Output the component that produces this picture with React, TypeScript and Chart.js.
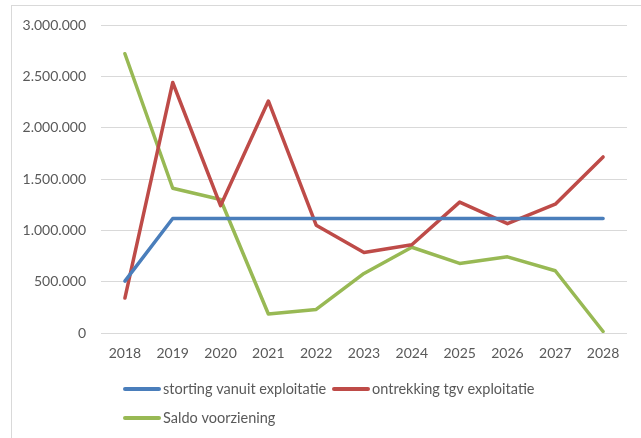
import React, { useEffect, useRef } from "react";
import { Chart, registerables } from "chart.js";

Chart.register(...registerables);

const years = ["2018", "2019", "2020", "2021", "2022", "2023", "2024", "2025", "2026", "2027", "2028"];
const storting = [505000, 1115000, 1115000, 1115000, 1115000, 1115000, 1115000, 1115000, 1115000, 1115000, 1115000];
const ontrekking = [340000, 2440000, 1240000, 2260000, 1050000, 785000, 860000, 1275000, 1065000, 1255000, 1715000];
const saldo = [2720000, 1410000, 1300000, 185000, 230000, 580000, 835000, 678000, 742000, 606000, 15000];

const seriesNames = ["storting vanuit exploitatie", "ontrekking tgv exploitatie", "Saldo voorziening"];
const seriesColors = ["#4A7EBB", "#BE4B48", "#98B954"];

const FONT = "Lato, 'Open Sans', sans-serif";
const TEXT = "#595959";

function fmt(v: number): string {
  return String(Math.round(v)).replace(/\B(?=(\d{3})+(?!\d))/g, ".");
}

const framePlugin = {
  id: "frame",
  beforeDraw(chart: any) {
    const ctx = chart.ctx;
    ctx.save();
    ctx.fillStyle = "#ffffff";
    ctx.fillRect(0, 0, chart.width, chart.height);
    ctx.strokeStyle = "#d9d9d9";
    ctx.lineWidth = 1;
    ctx.strokeRect(11.5, 5.5, chart.width, chart.height);
    ctx.restore();
  },
  afterDraw(chart: any) {
    const ctx = chart.ctx;
    const items = [
      { x: 123, y: 389 },
      { x: 332, y: 389 },
      { x: 123, y: 418 },
    ];
    ctx.save();
    ctx.font = `14.5px ${FONT}`;
    ctx.textBaseline = "middle";
    ctx.fillStyle = TEXT;
    items.forEach((it, i) => {
      ctx.strokeStyle = seriesColors[i];
      ctx.lineWidth = 4;
      ctx.lineCap = "round";
      ctx.beginPath();
      ctx.moveTo(it.x + 2, it.y);
      ctx.lineTo(it.x + 36, it.y);
      ctx.stroke();
      ctx.fillStyle = TEXT;
      ctx.fillText(seriesNames[i], it.x + 40, it.y);
    });
    ctx.restore();
  },
};

export default function App() {
  const ref = useRef<HTMLCanvasElement>(null);
  useEffect(() => {
    if (!ref.current) return;
    const data = [storting, ontrekking, saldo];
    const chart = new Chart(ref.current, {
      type: "line",
      data: {
        labels: years,
        datasets: data.map((d, i) => ({
          label: seriesNames[i],
          data: d,
          borderColor: seriesColors[i],
          backgroundColor: seriesColors[i],
          borderWidth: 3.5,
          pointRadius: 0,
          tension: 0,
          borderCapStyle: "round" as const,
          borderJoinStyle: "round" as const,
          fill: false,
        })),
      },
      options: {
        animation: false,
        responsive: false,
        devicePixelRatio: 1,
        layout: { padding: { left: 0, top: 25, right: 14, bottom: 75 } },
        plugins: { legend: { display: false }, tooltip: { enabled: false } },
        scales: {
          x: {
            offset: true,
            grid: { display: false, drawTicks: false },
            border: { display: false },
            ticks: { color: TEXT, font: { family: FONT, size: 14 }, padding: 12 },
            afterFit(scale: any) {
              scale.height = 30;
            },
          },
          y: {
            min: 0,
            max: 3000000,
            grid: { color: "#d9d9d9", lineWidth: 1, drawTicks: false },
            border: { display: false },
            ticks: {
              stepSize: 500000,
              color: TEXT,
              font: { family: FONT, size: 14 },
              padding: 15,
              callback: (v: any) => fmt(Number(v)),
            },
            afterFit(scale: any) {
              scale.width = 101;
            },
          },
        },
      },
      plugins: [framePlugin],
    });
    return () => chart.destroy();
  }, []);
  return (
    <div style={{ position: "fixed", left: 0, top: 0, width: 641, height: 438 }}>
      <canvas ref={ref} width={641} height={438} style={{ display: "block" }} />
    </div>
  );
}
